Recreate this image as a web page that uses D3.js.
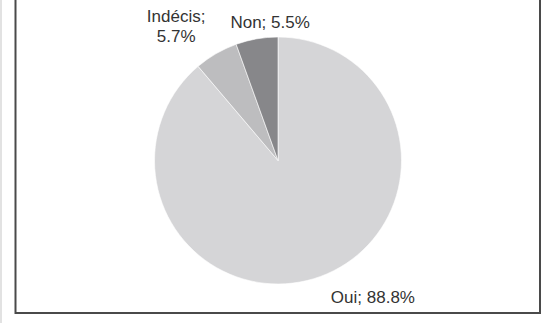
<!DOCTYPE html>
<html>
<head>
<meta charset="utf-8">
<script src="https://cdn.jsdelivr.net/npm/d3@7"></script>
<style>
  html, body { margin: 0; padding: 0; background: #fff; }
  svg { display: block; }
</style>
</head>
<body>
<svg id="chart" width="557" height="323"></svg>
<script>
// Survey answers and their shares (%)
const categories = ["Oui", "Indécis", "Non"];
const shares = [88.8, 5.7, 5.5];
const sliceColors = ["#d5d5d7", "#bdbdbf", "#87878a"];

const W = 557, H = 323;
const svg = d3.select("#chart");

// faint strip on the far left edge
svg.append("rect").attr("x", 0).attr("y", 0).attr("width", 2).attr("height", H)
  .attr("fill", "#e2e2e2");

// chart frame (top edge sits above the visible area)
const frame = { left: 15.5, right: 540, bottom: 313 };
svg.append("path")
  .attr("d", `M${frame.left},-5 V${frame.bottom} H${frame.right} V-5`)
  .attr("fill", "none").attr("stroke", "#4a4a4a").attr("stroke-width", 2);

const cx = 278, cy = 160.5, r = 123.5;

const pie = d3.pie().sort(null).value(d => d.value);
const arcs = pie(categories.map((c, i) => ({ name: c, value: shares[i] })));
const arc = d3.arc().innerRadius(0).outerRadius(r);

const g = svg.append("g").attr("transform", `translate(${cx},${cy})`);
g.selectAll("path.slice").data(arcs).enter().append("path")
  .attr("class", "slice")
  .attr("d", arc)
  .attr("fill", (d, i) => sliceColors[i])
  .attr("stroke", "#ffffff").attr("stroke-width", 0.6);

// labels: placed beyond the rim, with best-fit nudges
const labelArc = d3.arc().innerRadius(r + 30).outerRadius(r + 30);
const nudge = {
  "Oui": [42, -1.5],
  "Indécis": [-25, -5.5],
  "Non": [18.5, 18.5]
};
const fmt = v => v.toFixed(1) + "%";

arcs.forEach(d => {
  const [x, y] = labelArc.centroid(d);
  const [nx, ny] = nudge[d.data.name];
  const t = g.append("text")
    .attr("x", x + nx).attr("y", y + ny)
    .attr("text-anchor", "middle")
    .attr("font-family", "Liberation Sans, Arial, sans-serif")
    .attr("font-size", 17)
    .attr("fill", "#333");
  if (d.data.name === "Indécis") {
    t.append("tspan").attr("x", x + nx).text(d.data.name + ";");
    t.append("tspan").attr("x", x + nx).attr("dy", 20).text(fmt(d.data.value));
  } else {
    t.text(d.data.name + "; " + fmt(d.data.value));
  }
});
</script>
</body>
</html>
